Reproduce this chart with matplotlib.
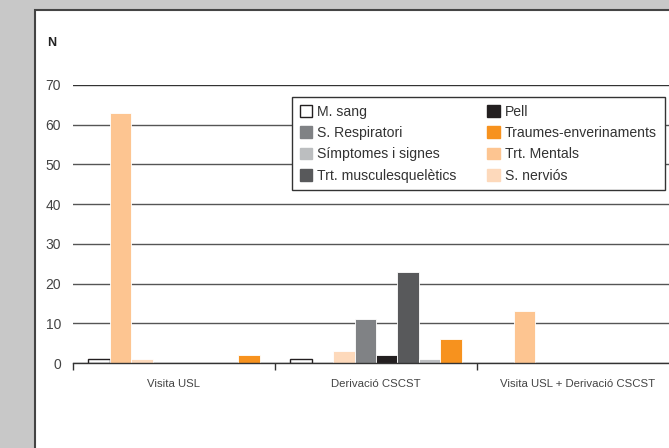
import matplotlib
matplotlib.use("Agg")
import matplotlib.pyplot as plt
from matplotlib.patches import Rectangle
import numpy as np

plt.rcParams['font.family'] = ['Liberation Sans', 'DejaVu Sans']

categories = ["Visita USL", "Derivació CSCST", "Visita USL + Derivació CSCST"]
# series in bar order within each group
series_names = ["M. sang", "Trt. Mentals", "S. nerviós", "S. Respiratori",
                "Pell", "Trt. musculesquelètics", "Símptomes i signes",
                "Traumes-enverinaments"]
m_sang = [1, 1, 0]
trt_mentals = [63, 0, 13]
s_nervios = [1, 3, 0]
s_respiratori = [0, 11, 0]
pell = [0, 2, 0]
trt_musc = [0, 23, 0]
simptomes = [0, 1, 0]
traumes = [2, 6, 0]
values = [m_sang, trt_mentals, s_nervios, s_respiratori, pell, trt_musc, simptomes, traumes]
colors = ["#ffffff", "#fdc591", "#fdd9bb", "#808285", "#231f20", "#58595b", "#bcbec0", "#f7921e"]
yticks = [0, 10, 20, 30, 40, 50, 60, 70]
legend_order = ["M. sang", "S. Respiratori", "Símptomes i signes", "Trt. musculesquelètics",
                "Pell", "Traumes-enverinaments", "Trt. Mentals", "S. nerviós"]

W, H = 669, 448
fig = plt.figure(figsize=(W / 100, H / 100), dpi=100)
fig.patch.set_facecolor("#c8c8c8")

# white panel (background axes)
bg = fig.add_axes([0, 0, 1, 1], zorder=-10)
bg.set_xlim(0, W)
bg.set_ylim(H, 0)
bg.axis("off")
bg.add_patch(Rectangle((35, 10), W + 50, H + 50, facecolor="white", edgecolor="#444444", linewidth=1.5))

ax = fig.add_axes([73 / W, (H - 363) / H, (679 - 73) / W, (363 - 85) / H], zorder=1)
ax.set_facecolor("none")
ax.set_xlim(0, 3)
ax.set_ylim(0, 70)

w = 0.1064
x = np.arange(len(categories))
handles = {}
for j, (name, vals, col) in enumerate(zip(series_names, values, colors)):
    vals = np.array(vals)
    pos = x + 0.5 + (j - 3.5) * w
    mask = vals > 0
    ec = "#231f20" if name == "M. sang" else "white"
    lw = 1.0 if name == "M. sang" else 0.6
    ax.bar(pos[mask], vals[mask], width=w, color=col, edgecolor=ec, linewidth=lw, zorder=3)
    handles[name] = Rectangle((0, 0), 1, 1, facecolor=col,
                              edgecolor=("#231f20" if name == "M. sang" else col), linewidth=1.0)

for yv in yticks:
    ax.axhline(yv, color="#555555" if yv != 70 else "#333333", linewidth=1.0, zorder=1)

for s in ["top", "right", "left"]:
    ax.spines[s].set_visible(False)
ax.spines["bottom"].set_color("#333333")
ax.spines["bottom"].set_linewidth(1.0)
ax.spines["bottom"].set_zorder(4)

ax.set_yticks(yticks)
ax.set_yticklabels([str(v) for v in yticks], fontsize=10, color="#444444")
ax.tick_params(axis="y", length=0, pad=8.5)
ax.set_xticks([0, 1, 2, 3])
ax.set_xticklabels([])
ax.tick_params(axis="x", direction="out", length=5, width=1, color="#333333")
for i, c in enumerate(categories):
    ax.text(i + 0.5, -4.0, c, ha="center", va="top", fontsize=8.2, color="#444444")

fig.text(52 / W, 1 - 43 / H, "N", fontsize=9, fontweight="bold", color="#222222", ha="center", va="center")

leg = ax.legend([handles[n] for n in legend_order], legend_order, ncol=2,
                loc="upper left", bbox_to_anchor=((292 - 73) / (679 - 73), 1 - (97 - 85) / 278),
                fontsize=10.1, frameon=True, fancybox=False, framealpha=1.0,
                handlelength=0.9, handleheight=0.9,
                handletextpad=0.35, columnspacing=2.2, labelspacing=0.52, borderpad=0.55,
                borderaxespad=0)
leg.get_frame().set_edgecolor("#333333")
leg.get_frame().set_linewidth(1.0)
leg.set_zorder(5)
for t in leg.get_texts():
    t.set_color("#333333")

fig.savefig("out.png", dpi=100, facecolor=fig.get_facecolor())
